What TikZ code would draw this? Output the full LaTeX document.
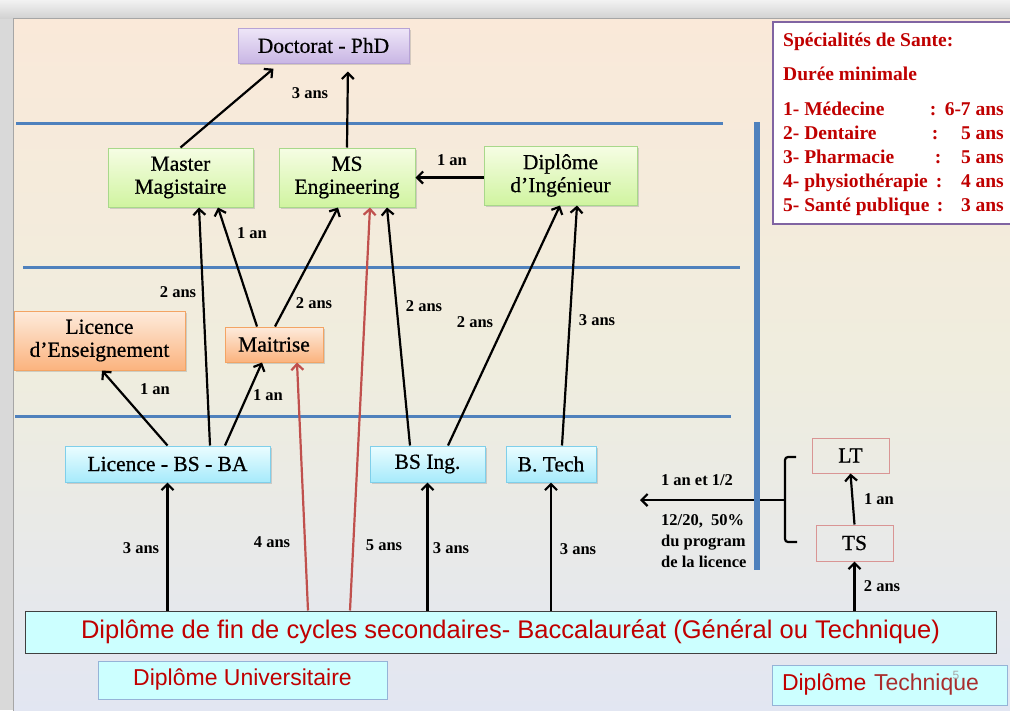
\documentclass[tikz,border=0pt]{standalone}
\usepackage{fontspec}
\setmainfont{Liberation Serif}
\newfontfamily\arialfont{Liberation Sans}
\newfontfamily\heavyserif{Liberation Serif}[FakeBold=0.6]
\usepackage{xcolor}
\usetikzlibrary{arrows.meta, shadows}

\definecolor{lineBlue}{HTML}{4F81BD}
\definecolor{arrowRed}{HTML}{C0504D}
\definecolor{textRed}{HTML}{C00000}
\definecolor{purpleTop}{HTML}{EEE6F8}
\definecolor{purpleBot}{HTML}{C9B6E4}
\definecolor{purpleEdge}{HTML}{B7A3D6}
\definecolor{greenTop}{HTML}{F6FDE4}
\definecolor{greenBot}{HTML}{D0F4A0}
\definecolor{greenEdge}{HTML}{A8D88A}
\definecolor{orangeTop}{HTML}{FDEBDC}
\definecolor{orangeBot}{HTML}{FBB37E}
\definecolor{orangeEdge}{HTML}{F3A464}
\definecolor{blueTop}{HTML}{EBFDFF}
\definecolor{blueBot}{HTML}{A6EAFB}
\definecolor{blueEdge}{HTML}{7FCFEA}
\definecolor{pinkEdge}{HTML}{D99594}
\definecolor{cyanFill}{HTML}{CCFFFF}
\definecolor{cyanEdge}{HTML}{95B3D7}
\definecolor{santeEdge}{HTML}{8064A2}
\definecolor{slideTop}{HTML}{FAE9D9}
\definecolor{slideMid}{HTML}{EFEDDE}
\definecolor{slideBot}{HTML}{E2E6F2}

\begin{document}
\begin{tikzpicture}[x=1pt, y=-1pt,
	box/.style={draw, line width=1pt, inner sep=0pt, align=center,
		font=\heavyserif\fontsize{21.5}{23}\selectfont,
		drop shadow={shadow xshift=1.5pt, shadow yshift=-1.5pt, opacity=0.3}},
	purplebox/.style={box, draw=purpleEdge, top color=purpleTop, bottom color=purpleBot},
	greenbox/.style={box, draw=greenEdge, top color=greenTop, bottom color=greenBot},
	orangebox/.style={box, draw=orangeEdge, top color=orangeTop, bottom color=orangeBot},
	bluebox/.style={box, draw=blueEdge, top color=blueTop, bottom color=blueBot},
	techbox/.style={draw=pinkEdge, line width=1pt, inner sep=0pt, font=\heavyserif\fontsize{21.5}{23}\selectfont},
	cyanbox/.style={draw=cyanEdge, line width=1pt, fill=cyanFill, inner sep=0pt,
		text=textRed, font=\arialfont\fontsize{23}{26}\selectfont},
	lbl/.style={font=\bfseries\fontsize{16.5}{18}\selectfont, inner sep=1pt},
	spec/.style={text=textRed, font=\bfseries\fontsize{19.5}{22}\selectfont, inner sep=0pt},
	arr/.style={-{Straight Barb[length=6pt, width=12pt]}, line width=2.2pt},
	redarr/.style={arr, draw=arrowRed},
	level/.style={draw=lineBlue, line width=3pt}
	]

	\useasboundingbox (0,0) rectangle (1010,710);

	% slide
	\fill[gray!30] (0,0) rectangle (1010,710);
	\shade[top color=gray!10, bottom color=gray!35] (0,0) rectangle (1010,18);
	\draw[gray!70, line width=1pt, top color=slideTop, bottom color=slideBot, middle color=slideMid]
		(13,18) rectangle (1014,714);

	% levels
	\draw[level] (16,123) -- (723,123);
	\draw[level] (23,267) -- (740,267);
	\draw[level] (15,416) -- (731,416);

	% diplomas
	\node[purplebox, minimum width=171pt, minimum height=35pt] (phd) at (323.5,45.5) {Doctorat - PhD};
	\node[greenbox, minimum width=145pt, minimum height=59pt] (master) at (180.5,177.5) {Master\\Magistaire};
	\node[greenbox, minimum width=136pt, minimum height=59pt] (ms) at (347,177.5) {MS\\Engineering};
	\node[greenbox, minimum width=153pt, minimum height=59pt] (ing) at (560.5,175.5) {Diplôme\\d’Ingénieur};
	\node[orangebox, minimum width=171pt, minimum height=59pt] (lens) at (99.5,340.5) {Licence\\d’Enseignement};
	\node[orangebox, minimum width=98pt, minimum height=35pt] (mait) at (274,344.5) {Maitrise};
	\node[bluebox, minimum width=205pt, minimum height=36pt] (lic) at (167.5,464) {Licence - BS - BA};
	\node[bluebox, minimum width=115pt, minimum height=36pt] (bsing) at (427.5,464) {BS Ing.};
	\node[bluebox, minimum width=90pt, minimum height=36pt] (btech) at (551,464) {B. Tech};
	\node[techbox, minimum width=77pt, minimum height=35pt] (lt) at (850.5,455.5) {LT};
	\node[techbox, minimum width=77pt, minimum height=36pt] (ts) at (854.5,543) {TS};

	\node[draw=black!75, line width=1pt, fill=cyanFill, inner sep=0pt, minimum width=971pt, minimum height=42pt,
		text=textRed, font=\arialfont\fontsize{25.5}{28}\selectfont] (bac) at (510.5,632)
		{Diplôme de fin de cycles secondaires- Baccalauréat (Général ou Technique)};
	\node[cyanbox, minimum width=289pt, minimum height=38pt] (univ) at (242.5,680) {Diplôme Universitaire};
	\node[cyanbox, minimum height=40pt, inner xsep=10pt, text width=215pt, align=left] (tech) at (889.5,685)
		{Diplôme \textcolor{textRed!65!gray}{Technique}};
	\node[text=gray!70, font=\arialfont\fontsize{12}{14}\selectfont, inner sep=0pt] (page) at (956,675) {5};

	% paths
	\draw[arr, shorten >=8pt] (master.north) -- ([xshift=-44pt]phd.south);
	\draw[arr, shorten >=8pt] (ms.north) -- ([xshift=24.5pt]phd.south);
	\draw[arr] ([yshift=-2pt]ing.west) -- (ms.east);
	\draw[arr] ([xshift=42.5pt]lic.north) -- ([xshift=18.5pt]master.south);
	\draw[arr] ([xshift=-17pt]mait.north) -- ([xshift=37.5pt]master.south);
	\draw[arr] ([xshift=1pt]mait.north) -- ([xshift=-9pt]ms.south);
	\draw[arr] (lic.north) -- ([xshift=2.5pt]lens.south);
	\draw[arr] ([xshift=57.5pt]lic.north) -- ([xshift=-12pt]mait.south);
	\draw[arr] ([xshift=-17.5pt]bsing.north) -- ([xshift=40pt]ms.south);
	\draw[arr] ([xshift=20.5pt]bsing.north) -- ([xshift=-0.5pt]ing.south);
	\draw[arr] ([xshift=11pt]btech.north) -- ([xshift=16.5pt]ing.south);
	\draw[redarr] ([xshift=-160.5pt]bac.north) -- ([xshift=23pt]ms.south);
	\draw[redarr] ([xshift=-202.5pt]bac.north) -- ([xshift=23pt]mait.south);
	\draw[arr] (bac.north -| lic.south) -- (lic.south);
	\draw[arr] (bac.north -| bsing.south) -- (bsing.south);
	\draw[arr] (bac.north -| btech.south) -- (btech.south);
	\draw[arr] (bac.north -| ts.south) -- (ts.south);
	\draw[arr] (ts.north) -- (lt.south);

	\draw[line width=2.2pt, rounded corners=3pt] (796,457) -| (785,500) |- (797,542);
	\coordinate (brk) at (773,500);
	\coordinate (ret) at (640,500);
	\draw[line width=2.2pt] (brk) -- (785,500);
	\draw[arr] (brk) -- (ret);
	\draw[draw=lineBlue, line width=6pt] (757,122) -- (757,570);

	% durations
	\node[lbl] (d1) at (310,93) {3 ans};
	\node[lbl] (d2) at (452,160) {1 an};
	\node[lbl] (d3) at (252,233) {1 an};
	\node[lbl] (d4) at (178,292) {2 ans};
	\node[lbl] (d5) at (314,303) {2 ans};
	\node[lbl] (d6) at (424,306) {2 ans};
	\node[lbl] (d7) at (475,322) {2 ans};
	\node[lbl] (d8) at (597,320) {3 ans};
	\node[lbl] (d9) at (155,389) {1 an};
	\node[lbl] (d10) at (268,395) {1 an};
	\node[lbl] (d11) at (141,548) {3 ans};
	\node[lbl] (d12) at (272,542) {4 ans};
	\node[lbl] (d13) at (384,545) {5 ans};
	\node[lbl] (d14) at (451,548) {3 ans};
	\node[lbl] (d15) at (578,549) {3 ans};
	\node[lbl] (d16) at (697,480) {1 an et 1/2};
	\node[lbl] (d17) at (879,499) {1 an};
	\node[lbl] (d18) at (882,586) {2 ans};
	\node[lbl, anchor=north west, align=left, font=\bfseries\fontsize{16.5}{21}\selectfont] (cond) at (660,513)
		{12/20,~~50\%\\du program\\de la licence};

	% sante
	\draw[draw=santeEdge, fill=white, line width=2.5pt] (773,22) rectangle (1016,224);
	\node[spec, anchor=base west] (sante) at (783,46) {Spécialités de Sante:};
	\node[spec, anchor=base west] (duree) at (783,80) {Durée minimale};
	\foreach \name/\cx/\val [count=\k] in {{1- Médecine}/933/{6-7 ans}, {2- Dentaire}/935/{5 ans},
		{3- Pharmacie}/938/{5 ans}, {4- physiothérapie}/939/{4 ans}, {5- Santé publique}/940/{3 ans}}
	{
		\node[spec, anchor=base west] (spn\k) at (783,91+24*\k) {\name};
		\node[spec, anchor=base] (spc\k) at (\cx,91+24*\k) {:};
		\node[spec, anchor=base east] (spv\k) at (1004,91+24*\k) {\val};
	}

\end{tikzpicture}
\end{document}
